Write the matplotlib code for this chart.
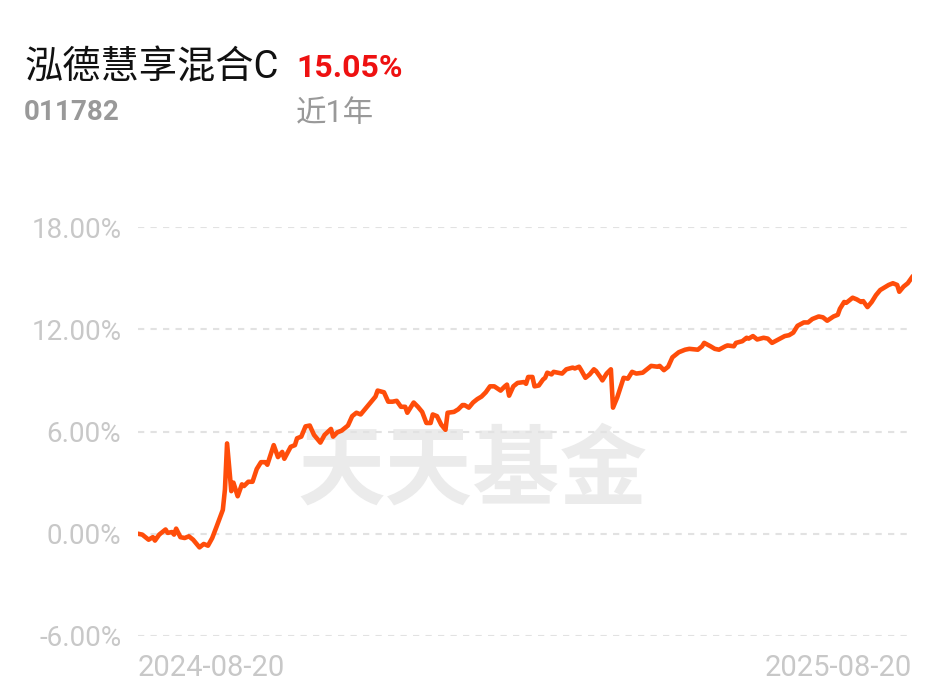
import numpy as np
import pandas as pd
import matplotlib
matplotlib.use("Agg")
import matplotlib.pyplot as plt

plt.rcParams['font.family'] = ['Roboto', 'Noto Sans CJK SC', 'DejaVu Sans']

fund_name = "泓德慧享混合C"
fund_code = "011782"
period_label = "近1年"
period_return = "15.05%"
start_date = "2024-08-20"
end_date = "2025-08-20"

# days since start date, cumulative return (%)
days = [0, 2, 5, 7, 8, 10, 13, 14, 16, 17, 18, 20, 22, 24, 26, 29, 31, 33, 35, 37,
        40, 41, 42, 44, 45, 47, 49, 50, 52, 54, 56, 58, 60, 61, 64, 66, 68, 69, 72, 74,
        75, 77, 79, 81, 83, 86, 88, 91, 92, 94, 96, 99, 101, 103, 105, 107, 109, 112, 113, 116,
        118, 120, 122, 124, 126, 127, 130, 132, 134, 136, 138, 139, 141, 143, 145, 146, 149, 151, 153, 154,
        156, 158, 160, 162, 164, 166, 168, 171, 173, 174, 175, 177, 179, 182, 183, 184, 186, 187, 189, 191,
        192, 193, 195, 196, 198, 200, 202, 205, 206, 208, 209, 211, 213, 215, 216, 218, 219, 221, 223, 224,
        226, 229, 231, 233, 235, 238, 240, 242, 245, 246, 248, 250, 252, 255, 258, 260, 264, 266, 267, 270,
        272, 274, 277, 278, 281, 282, 285, 287, 288, 290, 292, 295, 297, 299, 302, 305, 307, 309, 311, 314,
        316, 318, 321, 323, 325, 328, 330, 331, 333, 334, 337, 339, 341, 342, 344, 346, 348, 350, 352, 354,
        356, 358, 359, 361, 363, 365]
returns = [0.0, -0.05, -0.35, -0.2, -0.4, -0.05, 0.25, 0.05, 0.1, -0.05, 0.3, -0.2, -0.25, -0.15, -0.35, -0.8, -0.6, -0.7, -0.25, 0.4,
           1.4, 2.6, 5.3, 2.5, 3.0, 2.2, 2.9, 2.8, 3.05, 3.05, 3.8, 4.2, 4.2, 4.05, 5.2, 4.5, 4.8, 4.4, 5.1, 5.2,
           5.6, 5.7, 6.3, 6.35, 5.8, 5.35, 5.8, 6.15, 5.7, 5.95, 6.05, 6.35, 6.9, 7.1, 7.0, 7.3, 7.6, 8.05, 8.4, 8.3,
           7.75, 7.75, 7.8, 7.45, 7.45, 7.1, 7.7, 7.45, 7.15, 6.5, 6.5, 7.0, 6.9, 6.4, 6.1, 7.1, 7.15, 7.3, 7.55, 7.55,
           7.4, 7.7, 7.9, 8.05, 8.3, 8.65, 8.65, 8.4, 8.65, 8.75, 8.1, 8.65, 8.85, 8.9, 8.8, 9.2, 9.2, 8.65, 8.7, 9.05,
           9.15, 9.45, 9.35, 9.5, 9.45, 9.4, 9.65, 9.75, 9.7, 9.8, 9.6, 9.15, 9.35, 9.65, 9.55, 9.2, 9.0, 9.4, 9.65, 7.4,
           8.0, 9.15, 9.1, 9.5, 9.4, 9.45, 9.65, 9.85, 9.8, 9.85, 9.6, 9.8, 10.35, 10.65, 10.8, 10.85, 10.8, 11.0, 11.2, 11.0,
           10.85, 10.8, 11.0, 11.05, 11.0, 11.2, 11.3, 11.5, 11.45, 11.6, 11.4, 11.5, 11.45, 11.2, 11.4, 11.6, 11.65, 11.8, 12.2, 12.4,
           12.4, 12.6, 12.75, 12.7, 12.5, 12.75, 12.85, 13.2, 13.6, 13.55, 13.85, 13.75, 13.6, 13.65, 13.3, 13.6, 14.0, 14.3, 14.45, 14.6,
           14.7, 14.6, 14.2, 14.5, 14.7, 15.05]

y_ticks = [-6, 0, 6, 12, 18]
y_labels = ["-6.00%", "0.00%", "6.00%", "12.00%", "18.00%"]

fig = plt.figure(figsize=(9.48, 6.97), dpi=100)
ax = fig.add_axes([138 / 948, 1 - 636 / 697, (912 - 138) / 948, (636 - 227) / 697])

# watermark
ax.text(0.432, 0.40, "天天基金", transform=ax.transAxes, ha='center', va='center',
        fontsize=63, fontweight='bold', color='#ebebeb', family=['Noto Sans CJK SC'], zorder=0)

ax.plot(days, returns, color='#ff4d0a', lw=3.3, solid_joinstyle='round', zorder=3)

ax.set_xlim(0, 365)
ax.set_ylim(-6, 18)
ax.set_yticks(y_ticks)
ax.set_yticklabels(y_labels)
ax.set_xticks([0, 365])
ax.set_xticklabels([start_date, end_date])
xl = ax.get_xticklabels()
xl[0].set_ha('left')
xl[1].set_ha('right')

ax.grid(axis='y', color='#e2e2e2', linestyle=(0, (3, 3)), lw=1.5, zorder=1)
ax.grid(axis='x', visible=False)
for s in ax.spines.values():
    s.set_visible(False)
ax.tick_params(axis='both', length=0, colors='#c8c8c8')
ax.tick_params(axis='y', pad=12, labelsize=20)
ax.tick_params(axis='x', pad=13, labelsize=21)

fig.text(24 / 948, 1 - 68 / 697, fund_name, fontsize=27.5, color='#111111', va='center', ha='left')
fig.text(296 / 948, 1 - 68 / 697, period_return, fontsize=23, color='#ee1111', fontweight='bold',
         va='center', ha='left')
fig.text(24 / 948, 1 - 113 / 697, fund_code, fontsize=20, color='#999999', fontweight='bold',
         va='center', ha='left')
fig.text(296 / 948, 1 - 114 / 697, period_label, fontsize=22, color='#999999', va='center', ha='left')

fig.savefig("out.png", dpi=100, facecolor='white')
